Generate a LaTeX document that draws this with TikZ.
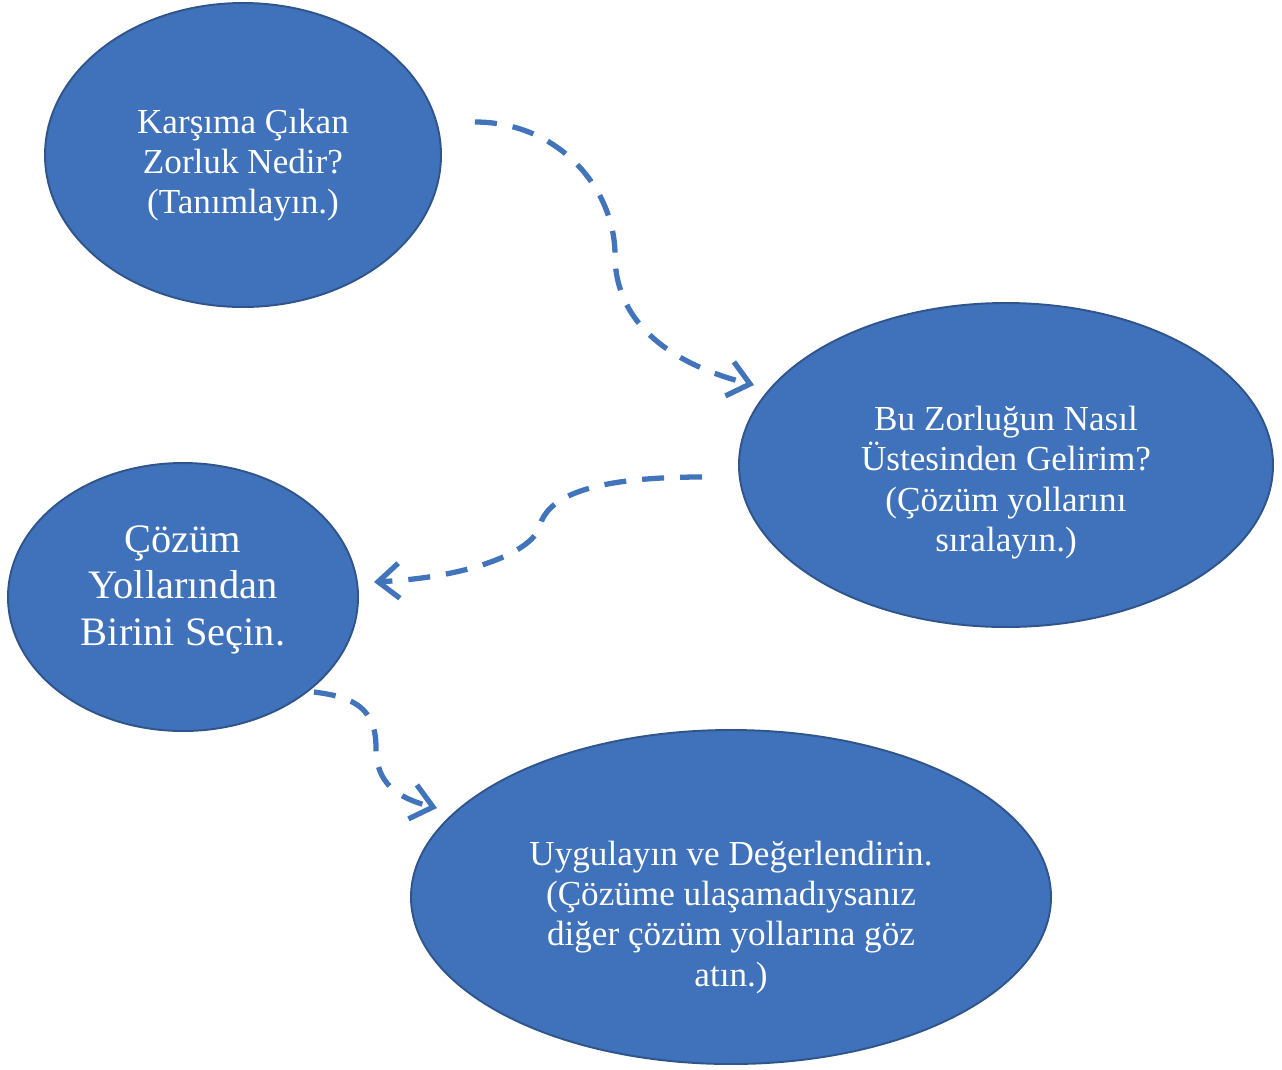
\documentclass[tikz,border=0pt]{standalone}
\usepackage{fontspec}
\setmainfont{Liberation Serif}
\usetikzlibrary{arrows.meta,shapes.geometric}

\definecolor{ovalblue}{RGB}{63,114,186}
\definecolor{ovalline}{RGB}{47,85,140}
\definecolor{flowblue}{RGB}{66,116,188}

% first baseline raised by #1 above the oval centre
\newcommand{\ovaltext}[2]{\raisebox{#1}[0pt][0pt]{\begin{tabular}[t]{@{}c@{}}#2\end{tabular}}}

\begin{document}
\begin{tikzpicture}[
    oval/.style={ellipse, draw=ovalline, line width=1.1pt, fill=ovalblue, text=white, inner sep=0pt, font=\fontsize{20pt}{23pt}\selectfont},
    flow/.style={-{Straight Barb[length=4.2mm,width=7mm]}, flowblue, line width=3pt, dash pattern=on 4.4mm off 3.2mm}
]
    \useasboundingbox (0,0) rectangle (25.64,-21.38);

    \node[oval, minimum width=7.92cm, minimum height=6.08cm] (hard) at (4.86,-3.10)
        {\ovaltext{0.44cm}{Karşıma Çıkan\\Zorluk Nedir?\\(Tanımlayın.)}};
    \node[oval, minimum width=10.68cm, minimum height=6.48cm] (overcome) at (20.12,-9.30)
        {\ovaltext{0.70cm}{Bu Zorluğun Nasıl\\Üstesinden Gelirim?\\(Çözüm yollarını\\sıralayın.)}};
    \node[oval, minimum width=7.00cm, minimum height=5.36cm, font=\fontsize{23pt}{26.5pt}\selectfont] (choose) at (3.66,-11.94)
        {\ovaltext{0.90cm}{Çözüm\\Yollarından\\Birini Seçin.}};
    \node[oval, minimum width=12.80cm, minimum height=6.68cm] (apply) at (14.62,-17.94)
        {\ovaltext{0.64cm}{Uygulayın ve Değerlendirin.\\(Çözüme ulaşamadıysanız\\diğer çözüm yollarına göz\\atın.)}};

    \draw[flow] ([shift={(0.66,0.66)}]hard.east) .. controls +(1.7,0) and +(0,1.3) .. (12.30,-5.10)
        .. controls +(0,-1.4) and +(-1.6,0.4) .. ([shift={(0.32,1.60)}]overcome.west);
    \draw[flow] ([shift={(-0.72,-0.24)}]overcome.west) .. controls +(-2.4,0) and +(0.15,0.5) .. (10.80,-10.50)
        .. controls +(-0.1,-0.5) and +(2.0,0.1) .. ([shift={(0.30,0.30)}]choose.east);
    \draw[flow] ([shift={(-0.90,-1.90)}]choose.east) .. controls +(0.8,-0.1) and +(0,0.8) .. (7.52,-14.96)
        .. controls +(0,-0.7) and +(-0.8,0.2) .. ([shift={(0.54,1.78)}]apply.west);
\end{tikzpicture}
\end{document}
